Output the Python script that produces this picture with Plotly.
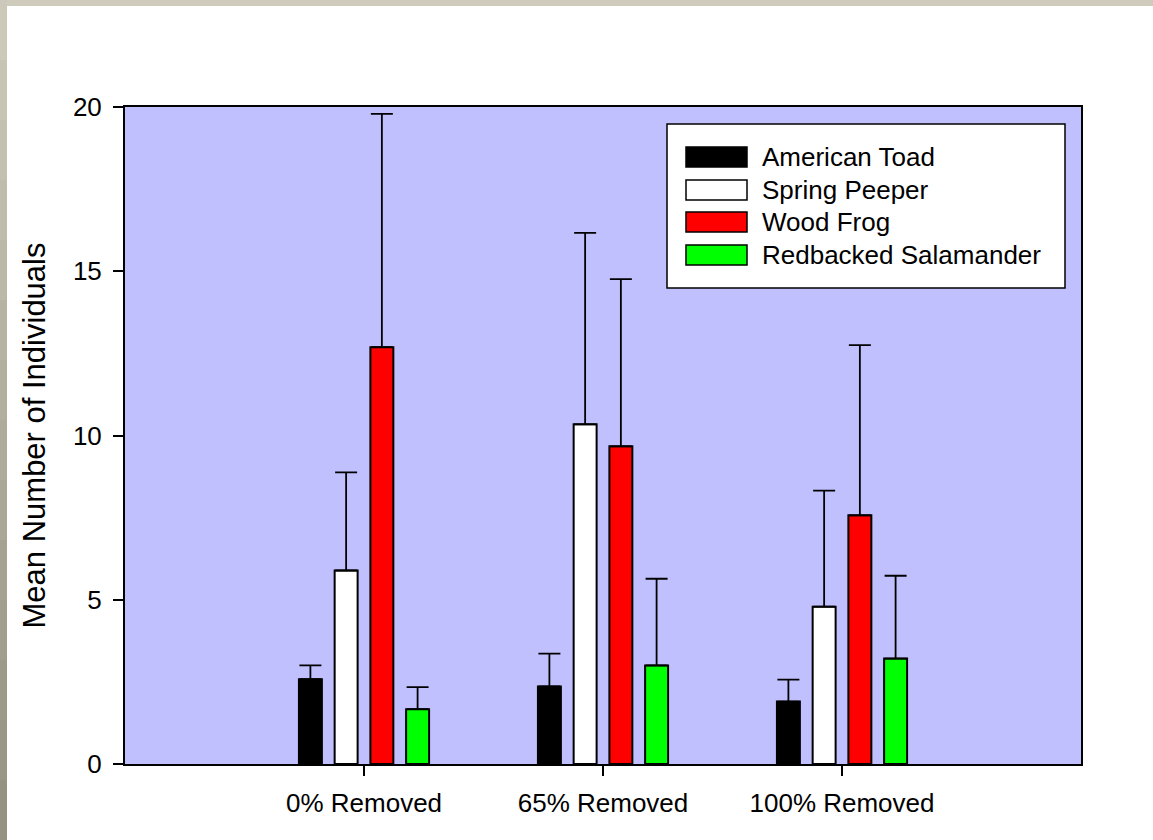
import plotly.graph_objects as go

categories = ["0% Removed", "65% Removed", "100% Removed"]
species = ["American Toad", "Spring Peeper", "Wood Frog", "Redbacked Salamander"]
colors = ["#000000", "#FFFFFF", "#FF0000", "#00FF00"]

american_toad = [2.58, 2.36, 1.90]
spring_peeper = [5.89, 10.34, 4.79]
wood_frog = [12.69, 9.67, 7.57]
redbacked_salamander = [1.67, 3.00, 3.21]

american_toad_err = [0.42, 1.00, 0.67]
spring_peeper_err = [2.99, 5.83, 3.53]
wood_frog_err = [7.10, 5.09, 5.18]
redbacked_salamander_err = [0.67, 2.64, 2.52]

y_ticks = [0, 5, 10, 15, 20]

means = [american_toad, spring_peeper, wood_frog, redbacked_salamander]
errs = [american_toad_err, spring_peeper_err, wood_frog_err, redbacked_salamander_err]

fig = go.Figure()
for name, col, m, e in zip(species, colors, means, errs):
    fig.add_trace(go.Bar(
        x=categories, y=m, name=name,
        marker=dict(color=col, line=dict(color="black", width=2)),
        error_y=dict(type="data", array=e, arrayminus=[0] * len(e), symmetric=False,
                     color="black", thickness=1.8, width=11),
        showlegend=False,
    ))

W, H = 1153, 840
L, R, T, B = 125, 72, 107, 76
PW, PH = W - L - R, H - T - B


def px(x):
    return (x - L) / PW


def py(y):
    return (H - B - y) / PH


FONT = "Liberation Sans, Arial, sans-serif"

shapes = []
# slide border (gradient strips)
shapes.append(dict(type="rect", xref="paper", yref="paper", x0=px(0), x1=px(W), y0=py(6), y1=py(0),
                   fillcolor="#CFCBBC", line=dict(width=0), layer="below"))
n = 14
for i in range(n):
    t = i / (n - 1)
    c = (int(205 - 55 * t), int(201 - 55 * t), int(186 - 55 * t))
    shapes.append(dict(type="rect", xref="paper", yref="paper", x0=px(0), x1=px(7),
                       y0=py(H * (i + 1) / n), y1=py(H * i / n),
                       fillcolor="rgb(%d,%d,%d)" % c, line=dict(width=0), layer="below"))

# legend
shapes.append(dict(type="rect", xref="paper", yref="paper", x0=px(667), x1=px(1065), y0=py(288), y1=py(124),
                   fillcolor="white", line=dict(color="black", width=1.5)))
annotations = []
row_tops = [147, 180, 212, 245]
for name, col, top in zip(species, colors, row_tops):
    shapes.append(dict(type="rect", xref="paper", yref="paper", x0=px(686), x1=px(747),
                       y0=py(top + 20), y1=py(top), fillcolor=col, line=dict(color="black", width=1.5)))
    annotations.append(dict(xref="paper", yref="paper", x=px(760), y=py(top + 10), text=name,
                            showarrow=False, xanchor="left", yanchor="middle",
                            font=dict(family=FONT, size=26, color="black")))

fig.update_layout(
    width=W, height=H,
    margin=dict(l=L, r=R, t=T, b=B, autoexpand=False),
    paper_bgcolor="white", plot_bgcolor="#C0C0FF",
    barmode="group", bargap=0.402, bargroupgap=0.357,
    font=dict(family=FONT, size=26, color="black"),
    shapes=shapes, annotations=annotations,
    xaxis=dict(range=[-1, 3], showline=True, linecolor="black", linewidth=2, mirror=True,
               ticks="outside", ticklen=10, tickwidth=2, tickcolor="black", showgrid=False,
               zeroline=False, ticklabelstandoff=5, tickfont=dict(size=26)),
    yaxis=dict(range=[0, 20], tickvals=y_ticks, showline=True, linecolor="black", linewidth=2,
               mirror=True, ticks="outside", ticklen=10, tickwidth=2, tickcolor="black",
               showgrid=False, zeroline=False, ticklabelstandoff=6, tickfont=dict(size=26),
               title=dict(text="Mean Number of Individuals", font=dict(size=31), standoff=18)),
)

fig.write_html("out.html", config={"displayModeBar": False},
               post_script="document.body.style.margin='0px';document.body.style.padding='0px';")
